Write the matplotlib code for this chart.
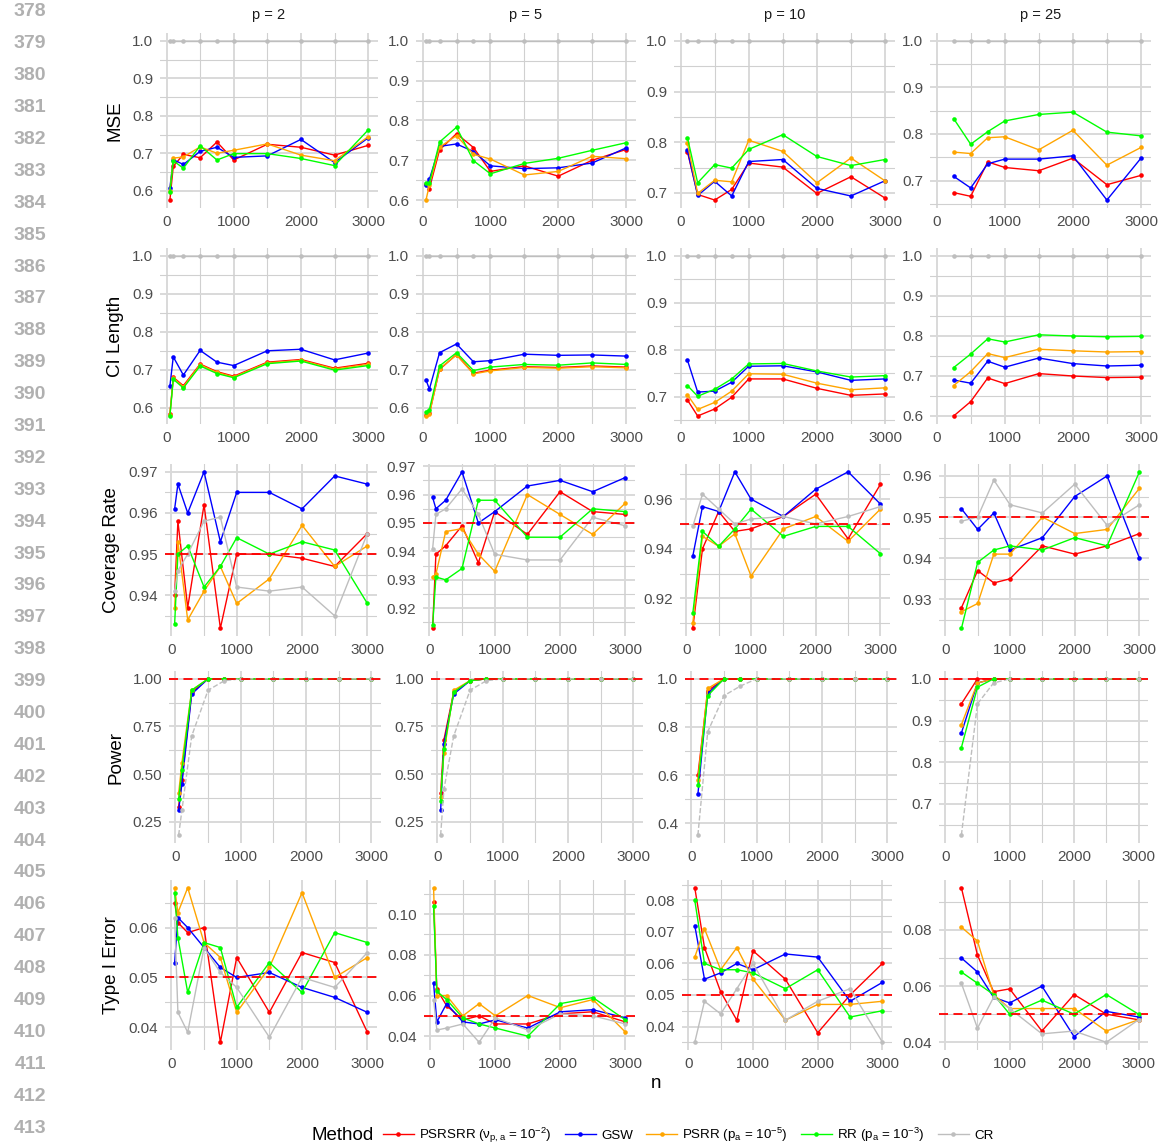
import numpy as np
import matplotlib.pyplot as plt
from matplotlib.ticker import MultipleLocator, FormatStrFormatter
from matplotlib.lines import Line2D

plt.rcParams['font.family'] = ['Liberation Sans', 'DejaVu Sans']
plt.rcParams['mathtext.fontset'] = 'custom'
plt.rcParams['mathtext.rm'] = 'Liberation Sans'
plt.rcParams['mathtext.it'] = 'Liberation Sans:italic'
plt.rcParams['mathtext.bf'] = 'Liberation Sans:bold'

# methods in legend order
methods = [r'PSRSRR ($\mathrm{\nu_{p,a}}$ = $\mathrm{10^{-2}}$)', 'GSW',
           r'PSRR ($\mathrm{p_a}$ = $\mathrm{10^{-5}}$)',
           r'RR ($\mathrm{p_a}$ = $\mathrm{10^{-3}}$)', 'CR']
colors = ['#FF0000', '#0000FF', '#FFA500', '#00FF00', '#BEBEBE']
p_values = [2, 5, 10, 25]

n_p2 = [50, 100, 250, 500, 750, 1000, 1500, 2000, 2500, 3000]
n_p5 = [50, 100, 250, 500, 750, 1000, 1500, 2000, 2500, 3000]
n_p10 = [100, 250, 500, 750, 1000, 1500, 2000, 2500, 3000]
n_p25 = [250, 500, 750, 1000, 1500, 2000, 2500, 3000]

# rows: PSRSRR, GSW, PSRR, RR, CR
mse_p2 = [[0.575, 0.665, 0.697, 0.688, 0.730, 0.682, 0.724, 0.716, 0.695, 0.721],
          [0.608, 0.683, 0.670, 0.705, 0.716, 0.689, 0.693, 0.737, 0.675, 0.741],
          [0.600, 0.687, 0.690, 0.717, 0.700, 0.708, 0.725, 0.695, 0.680, 0.744],
          [0.597, 0.680, 0.660, 0.720, 0.682, 0.699, 0.699, 0.686, 0.667, 0.762],
          [1.0, 1.0, 1.0, 1.0, 1.0, 1.0, 1.0, 1.0, 1.0, 1.0]]
mse_p5 = [[0.640, 0.629, 0.726, 0.767, 0.732, 0.672, 0.686, 0.660, 0.700, 0.727],
          [0.639, 0.652, 0.735, 0.741, 0.722, 0.686, 0.679, 0.681, 0.693, 0.731],
          [0.600, 0.638, 0.733, 0.762, 0.715, 0.703, 0.663, 0.672, 0.710, 0.704],
          [0.643, 0.643, 0.746, 0.783, 0.699, 0.666, 0.692, 0.705, 0.725, 0.744],
          [1.0, 1.0, 1.0, 1.0, 1.0, 1.0, 1.0, 1.0, 1.0, 1.0]]
mse_p10 = [[0.781, 0.697, 0.686, 0.707, 0.759, 0.751, 0.699, 0.732, 0.690],
           [0.784, 0.695, 0.723, 0.694, 0.762, 0.766, 0.709, 0.694, 0.724],
           [0.798, 0.699, 0.725, 0.722, 0.804, 0.782, 0.720, 0.769, 0.724],
           [0.809, 0.720, 0.756, 0.749, 0.786, 0.815, 0.772, 0.754, 0.766],
           [1.0, 1.0, 1.0, 1.0, 1.0, 1.0, 1.0, 1.0, 1.0]]
mse_p25 = [[0.674, 0.666, 0.740, 0.728, 0.721, 0.748, 0.691, 0.711],
           [0.709, 0.684, 0.736, 0.746, 0.746, 0.753, 0.658, 0.748],
           [0.761, 0.758, 0.792, 0.794, 0.766, 0.808, 0.733, 0.771],
           [0.833, 0.778, 0.805, 0.828, 0.842, 0.847, 0.804, 0.796],
           [1.0, 1.0, 1.0, 1.0, 1.0, 1.0, 1.0, 1.0]]

ci_p2 = [[0.583, 0.680, 0.658, 0.715, 0.695, 0.683, 0.720, 0.727, 0.704, 0.717],
         [0.657, 0.734, 0.686, 0.751, 0.720, 0.711, 0.750, 0.754, 0.726, 0.744],
         [0.581, 0.678, 0.655, 0.713, 0.693, 0.681, 0.718, 0.725, 0.702, 0.714],
         [0.578, 0.675, 0.652, 0.710, 0.690, 0.679, 0.716, 0.723, 0.699, 0.711],
         [1.0, 1.0, 1.0, 1.0, 1.0, 1.0, 1.0, 1.0, 1.0, 1.0]]
ci_p5 = [[0.581, 0.585, 0.701, 0.740, 0.691, 0.699, 0.708, 0.706, 0.710, 0.707],
         [0.673, 0.649, 0.745, 0.768, 0.721, 0.724, 0.741, 0.738, 0.739, 0.736],
         [0.578, 0.582, 0.703, 0.739, 0.689, 0.697, 0.706, 0.704, 0.708, 0.705],
         [0.589, 0.595, 0.710, 0.745, 0.698, 0.707, 0.714, 0.712, 0.718, 0.714],
         [1.0, 1.0, 1.0, 1.0, 1.0, 1.0, 1.0, 1.0, 1.0, 1.0]]
ci_p10 = [[0.693, 0.659, 0.674, 0.699, 0.738, 0.738, 0.718, 0.703, 0.706],
          [0.778, 0.710, 0.712, 0.731, 0.765, 0.766, 0.753, 0.735, 0.738],
          [0.704, 0.673, 0.688, 0.712, 0.749, 0.748, 0.729, 0.715, 0.719],
          [0.724, 0.701, 0.716, 0.738, 0.770, 0.771, 0.755, 0.742, 0.745],
          [1.0, 1.0, 1.0, 1.0, 1.0, 1.0, 1.0, 1.0, 1.0]]
ci_p25 = [[0.600, 0.636, 0.695, 0.681, 0.706, 0.700, 0.696, 0.697],
          [0.690, 0.682, 0.737, 0.722, 0.745, 0.731, 0.725, 0.727],
          [0.676, 0.711, 0.756, 0.746, 0.767, 0.763, 0.760, 0.761],
          [0.721, 0.755, 0.793, 0.785, 0.803, 0.800, 0.798, 0.799],
          [1.0, 1.0, 1.0, 1.0, 1.0, 1.0, 1.0, 1.0]]

cov_p2 = [[0.940, 0.958, 0.937, 0.962, 0.932, 0.950, 0.950, 0.949, 0.947, 0.955],
          [0.961, 0.967, 0.960, 0.970, 0.953, 0.965, 0.965, 0.961, 0.969, 0.967],
          [0.937, 0.953, 0.934, 0.941, 0.947, 0.938, 0.944, 0.957, 0.947, 0.952],
          [0.933, 0.950, 0.952, 0.942, 0.947, 0.954, 0.950, 0.953, 0.951, 0.938],
          [0.941, 0.946, 0.950, 0.958, 0.959, 0.942, 0.941, 0.942, 0.935, 0.955]]
cov_p5 = [[0.913, 0.939, 0.942, 0.949, 0.936, 0.954, 0.946, 0.961, 0.954, 0.953],
          [0.959, 0.955, 0.958, 0.968, 0.950, 0.954, 0.963, 0.965, 0.961, 0.966],
          [0.931, 0.932, 0.947, 0.948, 0.939, 0.933, 0.960, 0.953, 0.946, 0.957],
          [0.914, 0.931, 0.930, 0.934, 0.958, 0.958, 0.945, 0.945, 0.955, 0.954],
          [0.941, 0.953, 0.955, 0.962, 0.953, 0.939, 0.937, 0.937, 0.952, 0.949]]
cov_p10 = [[0.908, 0.940, 0.955, 0.947, 0.948, 0.953, 0.962, 0.944, 0.966],
           [0.937, 0.957, 0.955, 0.971, 0.960, 0.953, 0.964, 0.971, 0.958],
           [0.910, 0.945, 0.941, 0.946, 0.929, 0.948, 0.953, 0.943, 0.956],
           [0.914, 0.947, 0.941, 0.948, 0.956, 0.945, 0.949, 0.949, 0.938],
           [0.949, 0.962, 0.956, 0.950, 0.952, 0.953, 0.950, 0.953, 0.957]]
cov_p25 = [[0.928, 0.937, 0.934, 0.935, 0.943, 0.941, 0.943, 0.946],
           [0.952, 0.947, 0.951, 0.942, 0.945, 0.955, 0.960, 0.940],
           [0.927, 0.929, 0.941, 0.941, 0.950, 0.946, 0.947, 0.957],
           [0.923, 0.939, 0.942, 0.943, 0.942, 0.945, 0.943, 0.961],
           [0.949, 0.950, 0.959, 0.953, 0.951, 0.958, 0.948, 0.953]]

pow_p2 = [[0.33, 0.47, 0.93, 1.0, 1.0, 1.0, 1.0, 1.0, 1.0, 1.0],
          [0.31, 0.45, 0.92, 1.0, 1.0, 1.0, 1.0, 1.0, 1.0, 1.0],
          [0.40, 0.56, 0.94, 1.0, 1.0, 1.0, 1.0, 1.0, 1.0, 1.0],
          [0.37, 0.52, 0.94, 1.0, 1.0, 1.0, 1.0, 1.0, 1.0, 1.0],
          [0.18, 0.31, 0.70, 0.94, 0.99, 1.0, 1.0, 1.0, 1.0, 1.0]]
pow_p5 = [[0.40, 0.68, 0.93, 0.99, 1.0, 1.0, 1.0, 1.0, 1.0, 1.0],
          [0.31, 0.66, 0.92, 0.99, 1.0, 1.0, 1.0, 1.0, 1.0, 1.0],
          [0.38, 0.61, 0.94, 0.99, 1.0, 1.0, 1.0, 1.0, 1.0, 1.0],
          [0.36, 0.63, 0.93, 0.99, 1.0, 1.0, 1.0, 1.0, 1.0, 1.0],
          [0.18, 0.42, 0.70, 0.94, 0.99, 1.0, 1.0, 1.0, 1.0, 1.0]]
pow_p10 = [[0.60, 0.95, 1.0, 1.0, 1.0, 1.0, 1.0, 1.0, 1.0],
           [0.52, 0.94, 1.0, 1.0, 1.0, 1.0, 1.0, 1.0, 1.0],
           [0.58, 0.96, 1.0, 1.0, 1.0, 1.0, 1.0, 1.0, 1.0],
           [0.56, 0.93, 1.0, 1.0, 1.0, 1.0, 1.0, 1.0, 1.0],
           [0.35, 0.78, 0.93, 0.97, 1.0, 1.0, 1.0, 1.0, 1.0]]
pow_p25 = [[0.94, 1.0, 1.0, 1.0, 1.0, 1.0, 1.0, 1.0],
           [0.87, 0.99, 1.0, 1.0, 1.0, 1.0, 1.0, 1.0],
           [0.89, 0.99, 1.0, 1.0, 1.0, 1.0, 1.0, 1.0],
           [0.835, 0.98, 1.0, 1.0, 1.0, 1.0, 1.0, 1.0],
           [0.625, 0.94, 0.99, 1.0, 1.0, 1.0, 1.0, 1.0]]

t1_p2 = [[0.065, 0.061, 0.059, 0.060, 0.037, 0.054, 0.043, 0.055, 0.053, 0.039],
         [0.053, 0.062, 0.060, 0.056, 0.052, 0.050, 0.051, 0.048, 0.046, 0.043],
         [0.068, 0.063, 0.068, 0.057, 0.054, 0.043, 0.052, 0.067, 0.050, 0.054],
         [0.067, 0.058, 0.047, 0.057, 0.056, 0.044, 0.053, 0.047, 0.059, 0.057],
         [0.062, 0.043, 0.039, 0.056, 0.051, 0.048, 0.038, 0.050, 0.048, 0.055]]
t1_p5 = [[0.106, 0.063, 0.055, 0.048, 0.050, 0.046, 0.046, 0.051, 0.052, 0.047],
         [0.066, 0.047, 0.056, 0.047, 0.046, 0.048, 0.044, 0.052, 0.053, 0.049],
         [0.113, 0.060, 0.060, 0.050, 0.056, 0.050, 0.060, 0.054, 0.058, 0.042],
         [0.104, 0.062, 0.058, 0.049, 0.046, 0.044, 0.040, 0.056, 0.059, 0.048],
         [0.058, 0.043, 0.044, 0.046, 0.037, 0.049, 0.043, 0.051, 0.050, 0.046]]
t1_p10 = [[0.084, 0.065, 0.051, 0.042, 0.064, 0.055, 0.038, 0.050, 0.060],
          [0.072, 0.055, 0.057, 0.060, 0.058, 0.063, 0.062, 0.048, 0.054],
          [0.062, 0.071, 0.058, 0.065, 0.055, 0.042, 0.047, 0.047, 0.048],
          [0.080, 0.060, 0.058, 0.058, 0.057, 0.052, 0.058, 0.043, 0.045],
          [0.035, 0.048, 0.044, 0.052, 0.060, 0.042, 0.048, 0.052, 0.035]]
t1_p25 = [[0.095, 0.071, 0.058, 0.059, 0.044, 0.057, 0.050, 0.048],
          [0.070, 0.065, 0.056, 0.054, 0.060, 0.042, 0.051, 0.049],
          [0.081, 0.076, 0.057, 0.052, 0.052, 0.052, 0.044, 0.048],
          [0.065, 0.061, 0.057, 0.050, 0.055, 0.050, 0.057, 0.050],
          [0.061, 0.045, 0.056, 0.052, 0.043, 0.044, 0.040, 0.048]]

n_list = [n_p2, n_p5, n_p10, n_p25]
rows = [
    ('MSE', [mse_p2, mse_p5, mse_p10, mse_p25], [0.1, 0.1, 0.1, 0.1], ['%.1f'] * 4, None),
    ('CI Length', [ci_p2, ci_p5, ci_p10, ci_p25], [0.1, 0.1, 0.1, 0.1], ['%.1f'] * 4, None),
    ('Coverage Rate', [cov_p2, cov_p5, cov_p10, cov_p25], [0.01, 0.01, 0.02, 0.01], ['%.2f'] * 4, 0.95),
    ('Power', [pow_p2, pow_p5, pow_p10, pow_p25], [0.25, 0.25, 0.2, 0.1], ['%.2f', '%.2f', '%.1f', '%.1f'], 1.0),
    ('Type I Error', [t1_p2, t1_p5, t1_p10, t1_p25], [0.01, 0.02, 0.01, 0.02], ['%.2f'] * 4, 0.05),
]

# panel boxes in pixels: (y_top, y_bottom, [(x_left, x_right) per column])
W, H = 1161, 1147
boxes = [
    (33, 208, [(160, 378), (416, 636), (674, 895), (930, 1151)]),
    (248, 424, [(160, 378), (416, 636), (674, 895), (930, 1151)]),
    (464, 636, [(165, 377), (423, 635), (680, 890), (939, 1149)]),
    (671, 843, [(169, 381), (431, 643), (685, 897), (939, 1148)]),
    (880, 1050, [(165, 377), (424, 635), (682, 892), (939, 1148)]),
]

fig = plt.figure(figsize=(W / 100, H / 100), dpi=100)

xmin, xmax = 50, 3000
xpad = (xmax - xmin) * 0.05

for r, (label, datasets, step, fmt, hline) in enumerate(rows):
    y0, y1, cols = boxes[r]
    for c in range(4):
        x0, x1 = cols[c]
        ax = fig.add_axes([x0 / W, 1 - y1 / H, (x1 - x0) / W, (y1 - y0) / H])
        n = n_list[c]
        allv = []
        for m in range(5):
            ls = '--' if (label == 'Power' and m == 4) else '-'
            ax.plot(n, datasets[c][m], color=colors[m], lw=1.0, ls=ls,
                    marker='o', ms=3.3, mec='none', zorder=3)
            allv += datasets[c][m]
        if hline is not None:
            ax.axhline(hline, color='#FF0000', ls=(0, (5, 3)), lw=1.3, zorder=4)
            allv.append(hline)
        lo, hi = min(allv), max(allv)
        ypad = (hi - lo) * 0.05
        ax.set_ylim(lo - ypad, hi + ypad)
        ax.set_xlim(xmin - xpad, xmax + xpad)
        ax.xaxis.set_major_locator(MultipleLocator(1000))
        ax.xaxis.set_minor_locator(MultipleLocator(500))
        ax.yaxis.set_major_locator(MultipleLocator(step[c]))
        ax.yaxis.set_minor_locator(MultipleLocator(step[c] / 2))
        ax.yaxis.set_major_formatter(FormatStrFormatter(fmt[c]))
        ax.grid(which='major', color='#d9d9d9', lw=1.4, zorder=0)
        ax.grid(which='minor', color='#d0d0d0', lw=0.8, zorder=0)
        ax.set_axisbelow(True)
        for s in ax.spines.values():
            s.set_visible(False)
        ax.tick_params(which='both', length=0, labelsize=11, colors='#4d4d4d', pad=5)
        if r == 0:
            ax.set_title('p = %d' % p_values[c], fontsize=10.5, color='#1a1a1a', pad=10)
        if c == 0:
            ax.set_ylabel(label, fontsize=13.5, color='black', labelpad=6)

fig.text(656 / W, 1 - 1083 / H, 'n', fontsize=13.5, ha='center', va='center')

# legend
fig.text(343 / W, 1 - 1135 / H, 'Method', fontsize=13.5, ha='center', va='center')
handles = [Line2D([0], [0], color=colors[m], lw=1.0, marker='o', ms=3.3, mec='none')
           for m in range(5)]
fig.legend(handles, methods, loc='center left', bbox_to_anchor=(383 / W, 1 - 1135 / H),
           ncol=5, frameon=False, fontsize=9.6, handlelength=2.3, handletextpad=0.4,
           columnspacing=1.0, borderpad=0, borderaxespad=0)

# manuscript line numbers
for i, num in enumerate(range(378, 414)):
    fig.text(46 / W, 1 - (12 + i * 31.886) / H, str(num), fontsize=14, ha='right',
             va='center', color='#b0b0b0', fontweight='bold')

fig.savefig('out.png', dpi=100)
